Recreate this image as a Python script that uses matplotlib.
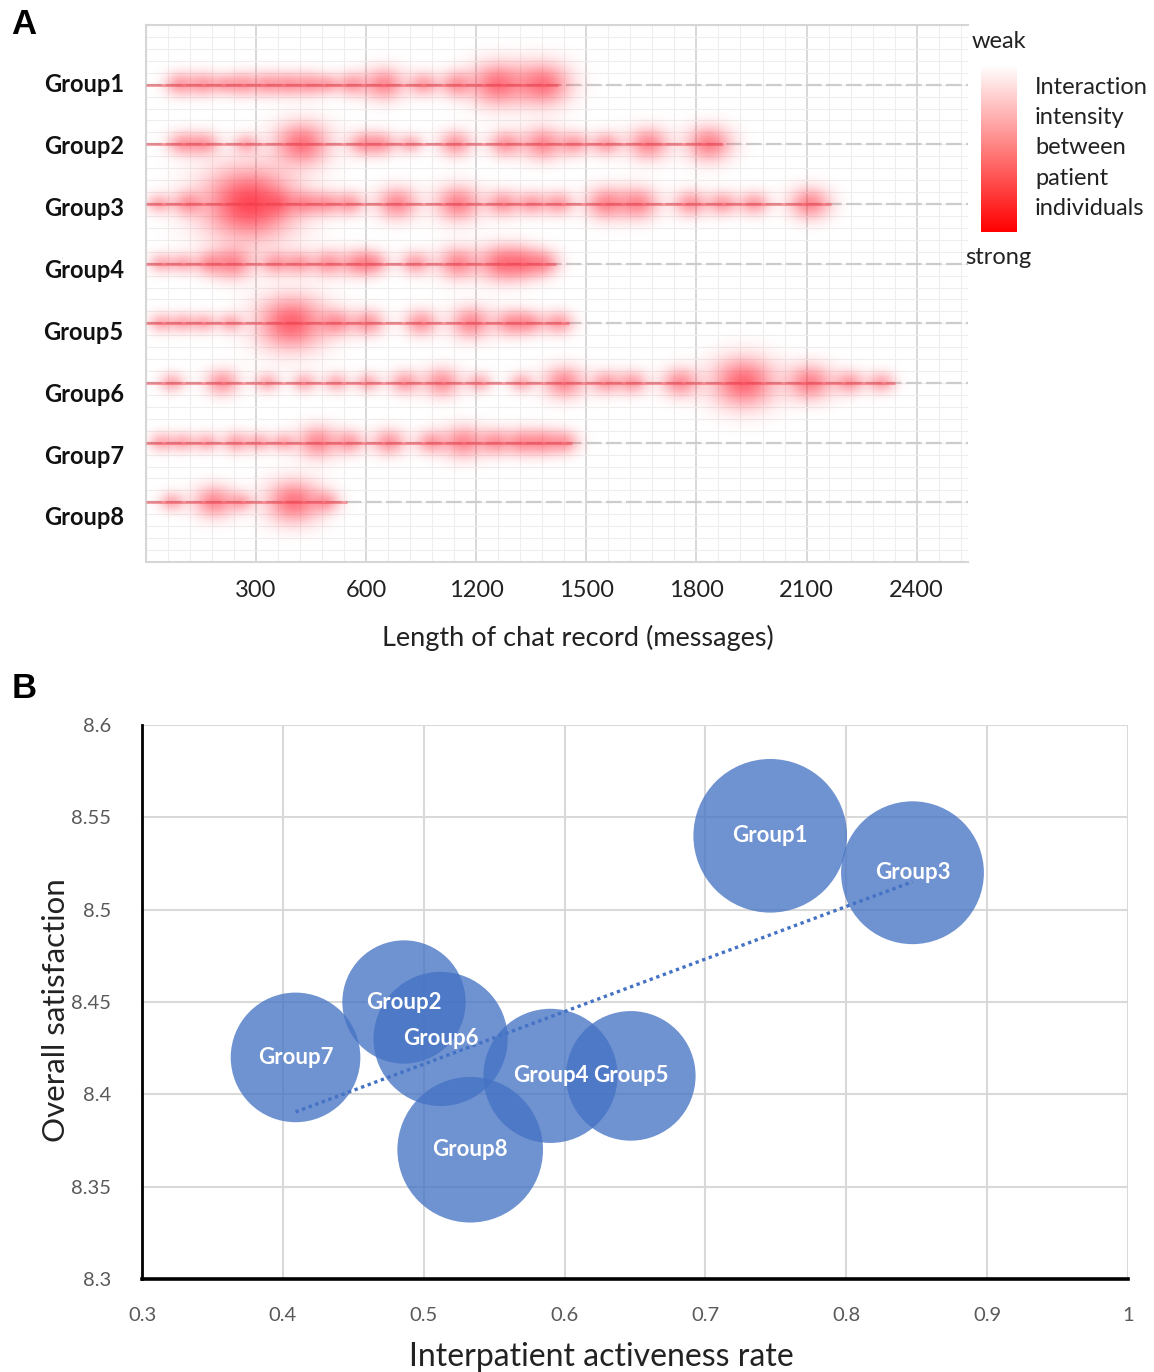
import numpy as np
import matplotlib
matplotlib.use("Agg")
import matplotlib.pyplot as plt
from matplotlib.colors import LinearSegmentedColormap

plt.rcParams['font.family'] = ['Lato', 'DejaVu Sans']

# ---------------- data: panel A ----------------
groups = ['Group1', 'Group2', 'Group3', 'Group4', 'Group5', 'Group6', 'Group7', 'Group8']
x_ticks = [300, 600, 900, 1200, 1500, 1800, 2100]
x_tick_labels = ['300', '600', '1200', '1500', '1800', '2100', '2400']

# length of each chat record (end of the row)
record_end = [1124, 1572, 1868, 1117, 1153, 2041, 1160, 547]

# interaction hot spots along each record: position and intensity (0-1)
g1_pos = [92, 157, 215, 265, 330, 388, 446, 496, 561, 648, 756, 847, 958, 1081]
g1_int = [0.4, 0.4, 0.3, 0.4, 0.4, 0.4, 0.4, 0.3, 0.4, 0.55, 0.4, 0.45, 0.7, 0.7]
g2_pos = [99, 157, 272, 424, 590, 641, 720, 843, 980, 1081, 1167, 1254, 1369, 1535]
g2_int = [0.4, 0.4, 0.3, 0.7, 0.4, 0.4, 0.3, 0.45, 0.45, 0.55, 0.4, 0.4, 0.55, 0.6]
g3_pos = [34, 113, 280, 359, 431, 489, 554, 684, 850, 973, 1052, 1124, 1254, 1341, 1485, 1572, 1658, 1810]
g3_int = [0.3, 0.4, 1.0, 0.4, 0.4, 0.4, 0.4, 0.55, 0.6, 0.45, 0.4, 0.4, 0.55, 0.55, 0.45, 0.4, 0.4, 0.55]
g4_pos = [41, 99, 171, 236, 352, 417, 496, 576, 619, 734, 850, 965, 1023, 1081]
g4_int = [0.3, 0.3, 0.4, 0.55, 0.4, 0.4, 0.45, 0.45, 0.4, 0.4, 0.55, 0.6, 0.55, 0.45]
g5_pos = [41, 99, 157, 229, 395, 518, 604, 749, 886, 994, 1045, 1124]
g5_int = [0.3, 0.3, 0.3, 0.3, 0.82, 0.45, 0.45, 0.45, 0.55, 0.45, 0.4, 0.4]
g6_pos = [70, 207, 330, 431, 518, 604, 705, 806, 908, 1023, 1139, 1254, 1326, 1456, 1629, 1810, 1918, 2005]
g6_int = [0.3, 0.45, 0.3, 0.3, 0.3, 0.3, 0.4, 0.5, 0.3, 0.3, 0.55, 0.4, 0.4, 0.5, 0.78, 0.6, 0.4, 0.35]
g7_pos = [41, 99, 164, 244, 308, 374, 467, 554, 662, 777, 864, 951, 1023, 1081, 1139]
g7_int = [0.3, 0.3, 0.3, 0.35, 0.3, 0.3, 0.55, 0.4, 0.45, 0.4, 0.55, 0.45, 0.45, 0.45, 0.4]
g8_pos = [70, 185, 258, 402, 489]
g8_int = [0.3, 0.55, 0.3, 0.7, 0.35]

blob_pos = [g1_pos, g2_pos, g3_pos, g4_pos, g5_pos, g6_pos, g7_pos, g8_pos]
blob_int = [g1_int, g2_int, g3_int, g4_int, g5_int, g6_int, g7_int, g8_int]

# ---------------- data: panel B ----------------
activeness = [0.746, 0.486, 0.847, 0.590, 0.647, 0.512, 0.409, 0.533]
satisfaction = [8.54, 8.45, 8.52, 8.41, 8.41, 8.43, 8.42, 8.37]
bubble_size = [5.9, 3.8, 5.1, 4.5, 4.2, 4.5, 4.2, 5.3]

W, H = 1154, 1372
fig = plt.figure(figsize=(W / 100, H / 100), dpi=100)

# ================= Panel A =================
XMAX, YMAX = 2240, 9
rows = np.arange(1, 9)
axA = fig.add_axes([146 / W, 1 - 562 / H, 822 / W, 537 / H])
axA.set_xlim(0, XMAX)
axA.set_ylim(YMAX, 0)

axA.set_xticks(x_ticks)
axA.set_xticklabels(x_tick_labels, fontsize=17, color='#222222')
axA.set_xticks(np.arange(0, XMAX + 1, 60), minor=True)
# category labels sit slightly off the row lines, drifting downward (as in the original)
axA.set_yticks(0.97 + 1.037 * (rows - 1))
axA.set_yticklabels(groups, fontsize=17, fontweight='bold', color='#111111')
axA.set_yticks(np.arange(0, YMAX + 0.01, 0.2), minor=True)
axA.tick_params(which='both', length=0)
axA.tick_params(axis='x', pad=13)
axA.tick_params(axis='y', pad=16)

axA.grid(which='minor', color='#eeeeee', lw=0.8, zorder=0)
axA.xaxis.grid(True, which='major', color='#d2d2d2', lw=1.2)
axA.set_axisbelow(True)
axA.hlines(rows, 0, XMAX, colors='#cccccc', lw=1.6, linestyles=[(0, (7, 2))], zorder=1)
for side, sp in axA.spines.items():
    sp.set_color('#d6d6d6')
    sp.set_linewidth(1.5)
axA.spines['right'].set_visible(False)

# intensity field (alpha-stacked soft spots)
px_x = 822 / XMAX
px_y = 537 / YMAX
xs = np.linspace(0, XMAX, 822)
ys = np.linspace(0, YMAX, 537)
X, Y = np.meshgrid(xs, ys)
trans = np.ones_like(X)
for yrow, pos, inten in zip(rows, blob_pos, blob_int):
    for xb, it in zip(pos, inten):
        r = 11 + 40 * it ** 2
        a = 0.12 + 0.72 * it
        d2 = ((X - xb) * px_x / 1.3) ** 2 + ((Y - yrow) * px_y) ** 2
        trans *= 1 - a * np.exp(-2.2 * d2 / r ** 2)
alpha = 1 - trans
img = np.zeros(X.shape + (4,))
img[..., 0] = 1.0
img[..., 1] = 0.15
img[..., 2] = 0.22
img[..., 3] = np.clip(alpha, 0, 1)
axA.imshow(img, extent=(0, XMAX, YMAX, 0), aspect='auto', interpolation='bilinear', zorder=2)

axA.hlines(rows, 0, record_end, colors=(0.95, 0.25, 0.3), lw=2.2, alpha=0.45, zorder=3)

fig.text(578 / W, 1 - 638 / H, 'Length of chat record (messages)', fontsize=19.5,
         ha='center', va='center', color='#222222')

# colour scale
cax = fig.add_axes([981 / W, 1 - 232 / H, 36 / W, 167 / H])
cmap = LinearSegmentedColormap.from_list('wr', ['#ffffff', '#ff0000'])
cax.imshow(np.linspace(0, 1, 256)[:, None], aspect='auto', cmap=cmap)
cax.set_axis_off()
fig.text(999 / W, 1 - 42 / H, 'weak', fontsize=17, ha='center', va='center', color='#222222')
fig.text(998 / W, 1 - 258 / H, 'strong', fontsize=17, ha='center', va='center', color='#222222')
fig.text(1035 / W, 1 - 148 / H, 'Interaction\nintensity\nbetween\npatient\nindividuals',
         fontsize=17, ha='left', va='center', linespacing=1.55, color='#222222')

fig.text(24 / W, 1 - 25 / H, 'A', fontsize=25, fontweight='bold', ha='center', va='center',
         family=['Liberation Sans', 'DejaVu Sans'])
fig.text(24 / W, 1 - 688 / H, 'B', fontsize=25, fontweight='bold', ha='center', va='center',
         family=['Liberation Sans', 'DejaVu Sans'])

# ================= Panel B =================
axB = fig.add_axes([142 / W, 1 - 1279 / H, 986 / W, 554 / H])
axB.set_xlim(0.3, 1.0)
axB.set_ylim(8.3, 8.6)
bx = np.round(np.arange(0.3, 1.01, 0.1), 2)
by = np.round(np.arange(8.3, 8.601, 0.05), 2)
axB.set_xticks(bx)
axB.set_xticklabels([f'{v:g}' for v in bx], fontsize=14.5, color='#595959')
axB.set_yticks(by)
axB.set_yticklabels([f'{v:g}' for v in by], fontsize=14.5, color='#595959')
axB.tick_params(length=0)
axB.tick_params(axis='x', pad=20)
axB.tick_params(axis='y', pad=22)
axB.grid(True, color='#d9d9d9', lw=1.5)
axB.set_axisbelow(True)
axB.spines['top'].set_visible(False)
axB.spines['right'].set_visible(False)
axB.spines['left'].set_color('black')
axB.spines['left'].set_linewidth(2)
axB.spines['bottom'].set_color('black')
axB.spines['bottom'].set_linewidth(2.6)

axB.scatter(activeness, satisfaction, s=np.array(bubble_size) * 2074, color='#4472C4',
            alpha=0.77, edgecolors='none', zorder=3, clip_on=False)

k, b = np.polyfit(activeness, satisfaction, 1)
tx = np.array([min(activeness), max(activeness)])
axB.plot(tx, k * tx + b, color='#4472C4', lw=2.4, linestyle=(0, (1, 1.1)), zorder=4)

for name, xv, yv in zip(groups, activeness, satisfaction):
    axB.text(xv, yv, name, color='white', fontsize=16, fontweight='bold',
             ha='center', va='center', zorder=5)

fig.text(601 / W, 1 - 1357 / H, 'Interpatient activeness rate', fontsize=23,
         ha='center', va='center', color='#222222')
fig.text(56 / W, 1 - 1010 / H, 'Overall satisfaction', fontsize=22.5, rotation=90,
         ha='center', va='center', color='#222222')

fig.savefig('out.png', dpi=100)
